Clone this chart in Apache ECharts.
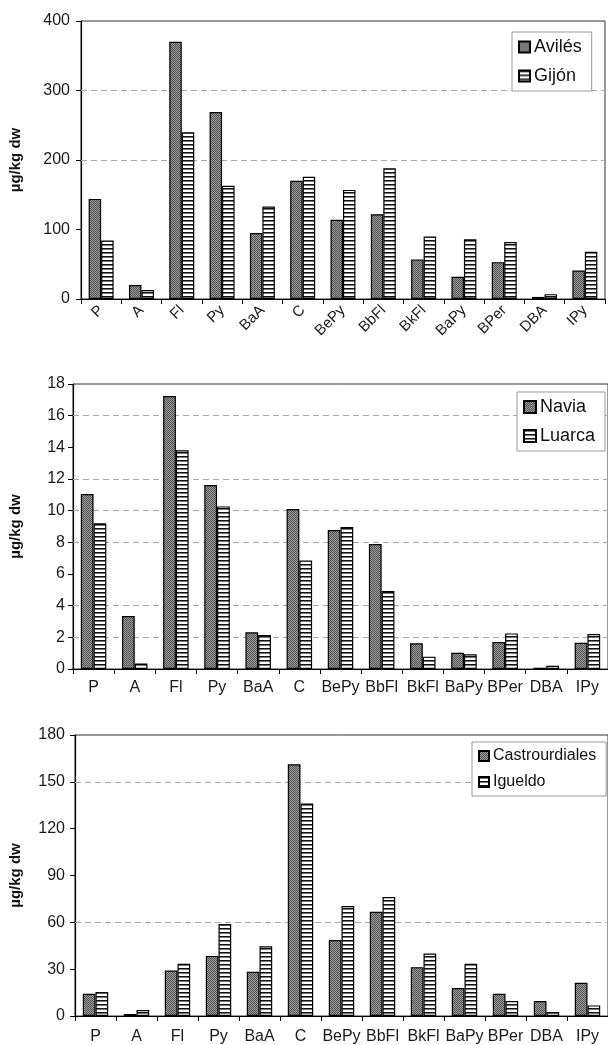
<!DOCTYPE html>
<html>
<head>
<meta charset="utf-8">
<script src="https://cdn.jsdelivr.net/npm/echarts@6/dist/echarts.min.js"></script>
<style>
html, body { margin: 0; padding: 0; background: #fff; }
#main { width: 608px; height: 1045px; }
</style>
</head>
<body>
<div id="main"></div>
<script>
var categories = ['P', 'A', 'Fl', 'Py', 'BaA', 'C', 'BePy', 'BbFl', 'BkFl', 'BaPy', 'BPer', 'DBA', 'IPy'];

// panel 1
var aviles = [144, 20, 370, 269, 95, 170, 114, 122, 57, 32, 53, 3, 41];
var gijon = [84, 13, 240, 163, 133, 176, 157, 188, 90, 86, 82, 7, 68];
// panel 2
var navia = [11.05, 3.35, 17.24, 11.62, 2.32, 10.1, 8.78, 7.89, 1.62, 1.03, 1.7, 0.08, 1.66];
var luarca = [9.2, 0.35, 13.81, 10.27, 2.15, 6.86, 8.97, 4.93, 0.78, 0.93, 2.25, 0.21, 2.21];
// panel 3
var castro = [14.3, 1.3, 29.1, 38.5, 28.3, 161.3, 48.7, 66.8, 31.3, 17.9, 14.3, 9.6, 21.3];
var igueldo = [15.3, 3.8, 33.4, 58.9, 44.7, 136.2, 70.4, 76.2, 40, 33.4, 9.6, 2.6, 6.8];

// dashed lines visible in the picture
var gridLines1 = [200, 300];
var gridLines2 = [2, 4, 8, 10, 12, 16];
var gridLines3 = [60, 150];

var FONT = '"Liberation Sans", Arial, sans-serif';

// fill patterns
function dotPattern() {
	var c = document.createElement('canvas');
	c.width = 2; c.height = 2;
	var ctx = c.getContext('2d');
	ctx.fillStyle = '#999';
	ctx.fillRect(0, 0, 2, 2);
	ctx.fillStyle = '#555';
	ctx.fillRect(0, 0, 1, 1);
	ctx.fillRect(1, 1, 1, 1);
	return { image: c, repeat: 'repeat' };
}
function stripePattern() {
	var c = document.createElement('canvas');
	c.width = 4; c.height = 4;
	var ctx = c.getContext('2d');
	ctx.fillStyle = '#fff';
	ctx.fillRect(0, 0, 4, 4);
	ctx.fillStyle = '#111';
	ctx.fillRect(0, 0, 4, 1);
	ctx.fillStyle = '#777';
	ctx.fillRect(0, 1, 4, 1);
	return { image: c, repeat: 'repeat' };
}
var dots = dotPattern();
var stripes = stripePattern();

function dashLines(values) {
	return {
		silent: true,
		z: 1,
		symbol: 'none',
		label: { show: false },
		lineStyle: { color: '#aaa', type: [6, 4], width: 1 },
		data: values.map(function(v) { return { yAxis: v }; })
	};
}

function barSeries(name, data, idx, pattern, lines) {
	var s = {
		name: name,
		type: 'bar',
		xAxisIndex: idx,
		yAxisIndex: idx,
		data: data,
		barGap: '0%',
		barCategoryGap: '38%',
		itemStyle: { color: pattern, borderColor: '#000', borderWidth: 1.2 }
	};
	if (lines) s.markLine = dashLines(lines);
	return s;
}

function xAxis(idx, rotate, margin, size) {
	return {
		type: 'category',
		gridIndex: idx,
		data: categories,
		axisLine: { lineStyle: { color: '#000', width: 1.2 } },
		axisTick: { show: true, length: 5, lineStyle: { color: '#000' } },
		axisLabel: { color: '#1a1a1a', fontSize: size, fontFamily: FONT, rotate: rotate, margin: margin, interval: 0 }
	};
}

function yAxis(idx, max, interval, nameGap, margin) {
	return {
		type: 'value',
		gridIndex: idx,
		min: 0,
		max: max,
		interval: interval,
		name: 'µg/kg dw',
		nameLocation: 'middle',
		nameGap: nameGap,
		nameTextStyle: { color: '#111', fontSize: 15, fontWeight: 'bold', fontFamily: FONT },
		axisLine: { show: true, lineStyle: { color: '#000', width: 1.2 } },
		axisTick: { show: true, length: 5, lineStyle: { color: '#000' } },
		splitLine: { show: false },
		axisLabel: { color: '#1a1a1a', fontSize: 16, fontFamily: FONT, margin: margin }
	};
}

function legend(names, left, top, fontSize, icon, gap) {
	return {
		orient: 'vertical',
		left: left,
		top: top,
		data: names,
		icon: 'rect',
		itemWidth: icon,
		itemHeight: icon,
		itemGap: gap,
		padding: [6, 10, 6, 6],
		borderColor: '#999',
		borderWidth: 1,
		backgroundColor: '#fff',
		textStyle: { color: '#111', fontSize: fontSize, fontFamily: FONT, padding: [0, 0, 0, -1] }
	};
}

var myChart = echarts.init(document.getElementById('main'));

var option = {
	animation: false,
	grid: [
		{ left: 74, top: 21, right: 3, height: 278, show: true, borderColor: '#333', borderWidth: 1 },
		{ left: 66, top: 384, right: -4, height: 285, show: true, borderColor: '#333', borderWidth: 1 },
		{ left: 68, top: 735, right: -2, height: 281, show: true, borderColor: '#333', borderWidth: 1 }
	],
	legend: [
		legend(['Avilés', 'Gijón'], 512, 32, 18, 11, 11),
		legend(['Navia', 'Luarca'], 517, 392, 18, 12, 11),
		legend(['Castrourdiales', 'Igueldo'], 472, 742, 16, 10, 10)
	],
	xAxis: [xAxis(0, 45, 9, 15), xAxis(1, 0, 11, 16), xAxis(2, 0, 13, 16)],
	yAxis: [yAxis(0, 400, 100, 58, 11), yAxis(1, 18, 2, 50, 8), yAxis(2, 180, 30, 52, 10)],
	series: [
		barSeries('Avilés', aviles, 0, dots, gridLines1),
		barSeries('Gijón', gijon, 0, stripes),
		barSeries('Navia', navia, 1, dots, gridLines2),
		barSeries('Luarca', luarca, 1, stripes),
		barSeries('Castrourdiales', castro, 2, dots, gridLines3),
		barSeries('Igueldo', igueldo, 2, stripes)
	]
};
myChart.setOption(option);
</script>
</body>
</html>
